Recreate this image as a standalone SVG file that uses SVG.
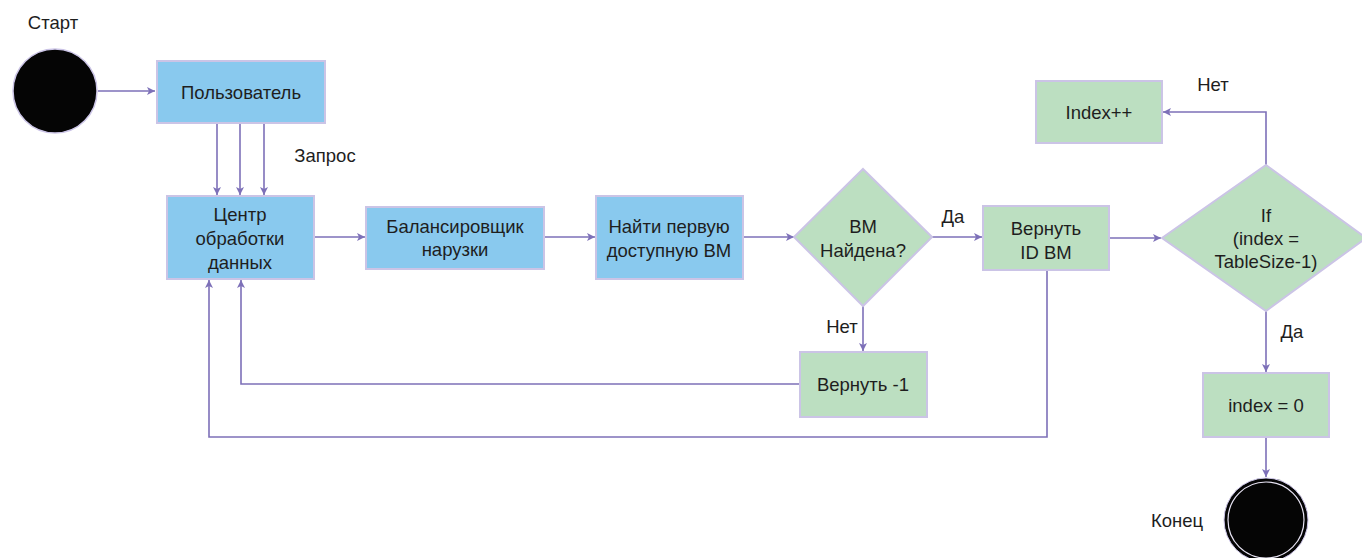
<svg xmlns="http://www.w3.org/2000/svg" width="1362" height="558" viewBox="0 0 1362 558">
  <style>
    text { font-family: "Liberation Sans", Arial, sans-serif; font-size: 18.5px; fill: #1e1e1e; text-anchor: middle; dominant-baseline: central; }
    .blue { fill: #89c9ee; stroke: #cbc4e6; stroke-width: 2; }
    .green { fill: #bcdfc1; stroke: #cbc4e6; stroke-width: 2; }
    .edge { fill: none; stroke: #7d70b8; stroke-width: 1.6; }
  </style>
  <defs>
    <marker id="arrow" viewBox="0 0 10 10" refX="10" refY="5" markerWidth="8" markerHeight="8" markerUnits="userSpaceOnUse" orient="auto">
      <path d="M0,0 L10,5 L0,10 L2.5,5 z" fill="#7d70b8"/>
    </marker>
  </defs>

  <rect width="1362" height="558" fill="#ffffff"/>

  <!-- connectors -->
  <g id="connectors">
    <path class="edge" d="M98,91 L155,91" marker-end="url(#arrow)"/>
    <path class="edge" d="M217,123 L217,195" marker-end="url(#arrow)"/>
    <path class="edge" d="M240,123 L240,195" marker-end="url(#arrow)"/>
    <path class="edge" d="M264,123 L264,195" marker-end="url(#arrow)"/>
    <path class="edge" d="M314,237 L365,237" marker-end="url(#arrow)"/>
    <path class="edge" d="M544,237 L595,237" marker-end="url(#arrow)"/>
    <path class="edge" d="M743,237 L794,237" marker-end="url(#arrow)"/>
    <path class="edge" d="M932,237 L982,237" marker-end="url(#arrow)"/>
    <path class="edge" d="M1109,238 L1161,238" marker-end="url(#arrow)"/>
    <path class="edge" d="M1266,165 L1266,112 L1163,112" marker-end="url(#arrow)"/>
    <path class="edge" d="M863,306 L863,351" marker-end="url(#arrow)"/>
    <path class="edge" d="M800,384 L241,384 L241,280" marker-end="url(#arrow)"/>
    <path class="edge" d="M1047,270 L1047,437 L209,437 L209,280" marker-end="url(#arrow)"/>
    <path class="edge" d="M1266,311 L1266,372" marker-end="url(#arrow)"/>
    <path class="edge" d="M1266,437 L1266,477" marker-end="url(#arrow)"/>
    <text x="325" y="155">Запрос</text>
    <text x="953" y="216">Да</text>
    <text x="842" y="326">Нет</text>
    <text x="1213" y="84">Нет</text>
    <text x="1292" y="331">Да</text>
  </g>

  <!-- start -->
  <g id="start">
    <circle cx="55" cy="91" r="42" fill="#050505" stroke="#cbc4e6" stroke-width="1.5"/>
    <text x="53" y="22">Старт</text>
  </g>

  <g id="user">
    <rect class="blue" x="157" y="61" width="168" height="62"/>
    <text x="241" y="92">Пользователь</text>
  </g>

  <g id="datacenter">
    <rect class="blue" x="167" y="196" width="147" height="83"/>
    <text x="240" y="214">Центр</text>
    <text x="240" y="238">обработки</text>
    <text x="240" y="262">данных</text>
  </g>

  <g id="balancer">
    <rect class="blue" x="366" y="207" width="178" height="62"/>
    <text x="455" y="226">Балансировщик</text>
    <text x="455" y="249">нарузки</text>
  </g>

  <g id="find-vm">
    <rect class="blue" x="596" y="196" width="147" height="83"/>
    <text x="669" y="226">Найти первую</text>
    <text x="669" y="250">доступную ВМ</text>
  </g>

  <g id="vm-found">
    <polygon class="green" points="863,169 932,237 863,306 794,237"/>
    <text x="863" y="226">ВМ</text>
    <text x="863" y="250">Найдена?</text>
  </g>

  <g id="return-id">
    <rect class="green" x="983" y="206" width="126" height="64"/>
    <text x="1046" y="228">Вернуть</text>
    <text x="1046" y="252">ID ВМ</text>
  </g>

  <g id="return-minus-one">
    <rect class="green" x="800" y="352" width="127" height="65"/>
    <text x="863" y="384">Вернуть -1</text>
  </g>

  <g id="index-check">
    <polygon class="green" points="1266,165 1366,238 1266,311 1162,238"/>
    <text x="1266" y="215">If</text>
    <text x="1266" y="238">(index =</text>
    <text x="1266" y="261">TableSize-1)</text>
  </g>

  <g id="index-inc">
    <rect class="green" x="1036" y="81" width="126" height="62"/>
    <text x="1099" y="112">Index++</text>
  </g>

  <g id="index-reset">
    <rect class="green" x="1203" y="373" width="126" height="64"/>
    <text x="1266" y="405">index = 0</text>
  </g>

  <g id="end">
    <circle cx="1266" cy="520" r="42" fill="#050505" stroke="#cbc4e6" stroke-width="1"/>
    <circle cx="1266" cy="520" r="38" fill="none" stroke="#e8e4f4" stroke-width="1.2"/>
    <text x="1177" y="520">Конец</text>
  </g>
</svg>
